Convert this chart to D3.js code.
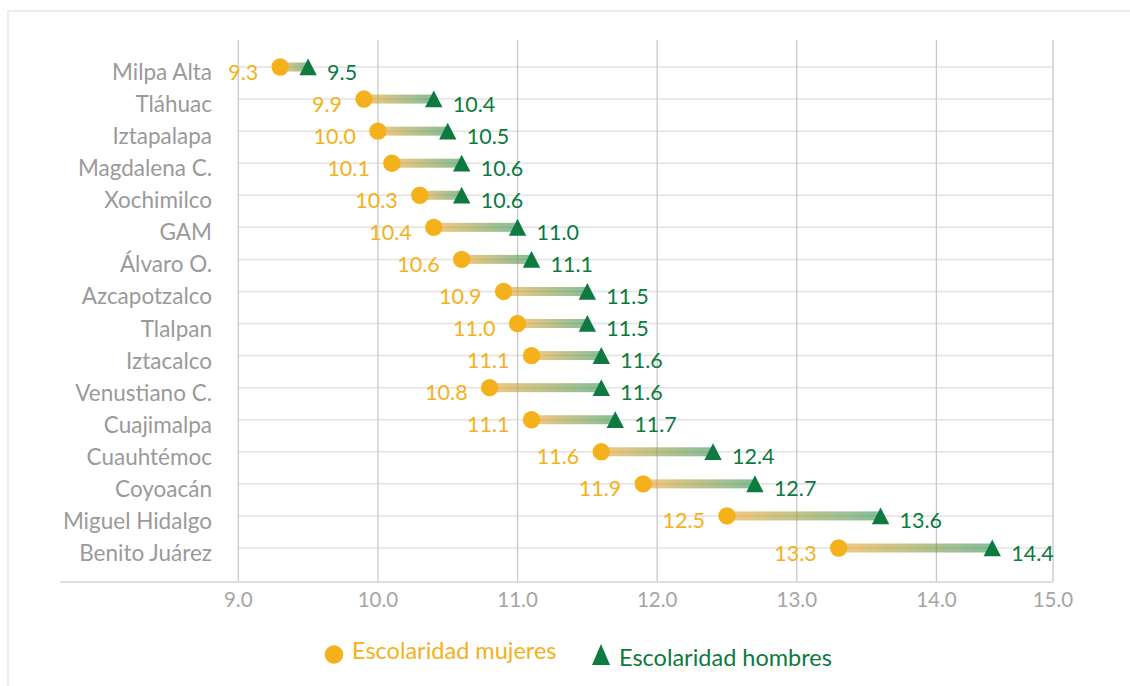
<!DOCTYPE html>
<html>
<head>
<meta charset="utf-8">
<script src="https://cdn.jsdelivr.net/npm/d3@7"></script>
<style>
  html, body { margin: 0; padding: 0; background: #fff; }
  svg { display: block; font-family: Lato, "Open Sans", sans-serif; }
</style>
</head>
<body>
<svg id="chart" width="1130" height="686"></svg>
<script>
// Years of schooling by borough, women vs men
const categories = ["Milpa Alta", "Tláhuac", "Iztapalapa", "Magdalena C.", "Xochimilco", "GAM",
  "Álvaro O.", "Azcapotzalco", "Tlalpan", "Iztacalco", "Venustiano C.", "Cuajimalpa",
  "Cuauhtémoc", "Coyoacán", "Miguel Hidalgo", "Benito Juárez"];
const mujeres = [9.3, 9.9, 10.0, 10.1, 10.3, 10.4, 10.6, 10.9, 11.0, 11.1, 10.8, 11.1, 11.6, 11.9, 12.5, 13.3];
const hombres = [9.5, 10.4, 10.5, 10.6, 10.6, 11.0, 11.1, 11.5, 11.5, 11.6, 11.6, 11.7, 12.4, 12.7, 13.6, 14.4];
const xTicks = [9, 10, 11, 12, 13, 14, 15];
const xMin = 9, xMax = 14.835;
const legendLabels = ["Escolaridad mujeres", "Escolaridad hombres"];

const ORANGE = "#F4B11B", GREEN = "#0D7A40";
const svg = d3.select("#chart");

// frame
svg.append("rect").attr("x", 8).attr("y", 11).attr("width", 1140).attr("height", 700)
  .attr("fill", "none").attr("stroke", "#ececec").attr("stroke-width", 2);

const x = d3.scaleLinear().domain([xMin, xMax]).range([238.3, 1053]).clamp(true);
const y = d3.scalePoint().domain(categories).range([67, 548]);
const plotTop = 40, plotBottom = 582;

// gradient for connectors
const defs = svg.append("defs");
const grad = defs.append("linearGradient").attr("id", "conn").attr("x1", "0%").attr("x2", "100%").attr("y1", "0%").attr("y2", "0%");
grad.append("stop").attr("offset", "0%").attr("stop-color", "#F2A630").attr("stop-opacity", 0.62);
grad.append("stop").attr("offset", "100%").attr("stop-color", "#2E8E4E").attr("stop-opacity", 0.58);

// row lines
svg.append("g").selectAll("line").data(categories).join("line")
  .attr("x1", x(xMin)).attr("x2", x(xMax))
  .attr("y1", d => y(d)).attr("y2", d => y(d))
  .attr("stroke", "#e2e2e2").attr("stroke-width", 1.5);

// vertical grid
svg.append("g").selectAll("line").data(xTicks).join("line")
  .attr("x1", d => x(d)).attr("x2", d => x(d))
  .attr("y1", plotTop).attr("y2", plotBottom)
  .attr("stroke", "#c8c8c8").attr("stroke-width", 1.3);

// baseline
svg.append("line").attr("x1", 60).attr("x2", x(xMax)).attr("y1", plotBottom).attr("y2", plotBottom)
  .attr("stroke", "#dedede").attr("stroke-width", 2);

// tick labels
svg.append("g").selectAll("text").data(xTicks).join("text")
  .attr("x", d => x(d)).attr("y", 607).attr("text-anchor", "middle")
  .attr("font-size", 20.5).attr("fill", "#a5a5a5")
  .text(d => d3.format(".1f")(d));

// category labels
svg.append("g").selectAll("text").data(categories).join("text")
  .attr("x", 212).attr("y", d => y(d) + 13).attr("text-anchor", "end")
  .attr("font-size", 22.5).attr("fill", "#9a9a9a")
  .text(d => d);

const rows = categories.map((c, i) => ({ c, m: mujeres[i], h: hombres[i] }));

// connectors
svg.append("g").selectAll("rect").data(rows).join("rect")
  .attr("x", d => x(d.m)).attr("width", d => x(d.h) - x(d.m))
  .attr("y", d => y(d.c) - 4.5).attr("height", 9)
  .attr("fill", "url(#conn)");

// women markers
svg.append("g").selectAll("circle").data(rows).join("circle")
  .attr("cx", d => x(d.m)).attr("cy", d => y(d.c)).attr("r", 8.7)
  .attr("fill", ORANGE);

// men markers
const tri = "M0,-8.5L8.7,8.3L-8.7,8.3Z";
svg.append("g").selectAll("path").data(rows).join("path")
  .attr("transform", d => `translate(${x(d.h)},${y(d.c)})`)
  .attr("d", tri).attr("fill", GREEN);

// value labels
svg.append("g").selectAll("text").data(rows).join("text")
  .attr("x", d => x(d.m) - 22).attr("y", d => y(d.c) + 12.5).attr("text-anchor", "end")
  .attr("font-size", 21.5).attr("fill", ORANGE)
  .text(d => d3.format(".1f")(d.m));
svg.append("g").selectAll("text").data(rows).join("text")
  .attr("x", d => x(d.h) + 19).attr("y", d => y(d.c) + 12.5).attr("text-anchor", "start")
  .attr("font-size", 21.5).attr("fill", GREEN)
  .text(d => d3.format(".1f")(d.h));

// legend
const lg = svg.append("g");
lg.append("circle").attr("cx", 334).attr("cy", 654.5).attr("r", 9.3).attr("fill", ORANGE);
lg.append("text").attr("x", 352).attr("y", 658.5).attr("font-size", 23.5).attr("fill", ORANGE).text(legendLabels[0]);
lg.append("path").attr("transform", "translate(601,654.5)").attr("d", "M0,-10.5L9,10.5L-9,10.5Z").attr("fill", GREEN);
lg.append("text").attr("x", 619).attr("y", 665.5).attr("font-size", 23.5).attr("fill", GREEN).text(legendLabels[1]);
</script>
</body>
</html>
